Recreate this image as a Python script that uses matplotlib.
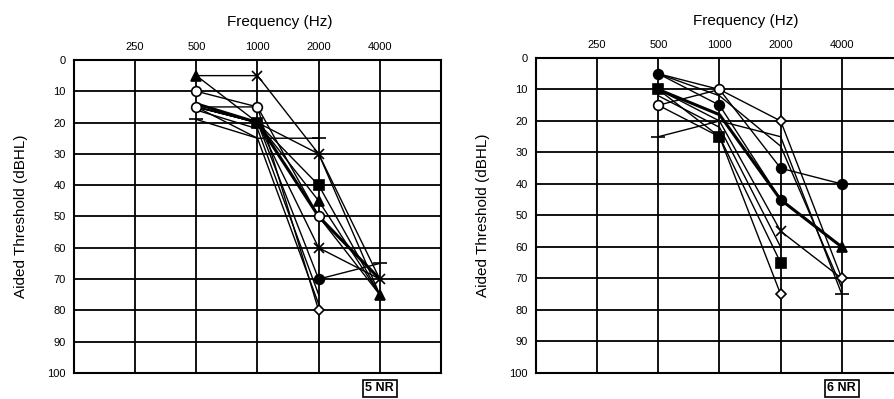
import matplotlib.pyplot as plt

plt.rcParams['font.family'] = ['Liberation Sans', 'DejaVu Sans']

freqs = [500, 1000, 2000, 4000]
tick_freqs = [250, 500, 1000, 2000, 4000]
db_ticks = list(range(0, 101, 10))

# left audiogram (group 5) - individual traces, thresholds at 500/1000/2000/4000
left_lines = [
    [5, 20, 45, 75],
    [5, 5, 30, 70],
    [10, 15, 50, 75],
    [15, 15, 80],
    [15, 20, 40, 75],
    [15, 20, 70, 65],
    [19, 25, 25],
    [15, 20, 60, 70],
    [15, 20, 30, 75],
    [15, 25, 78],
    [16, 22, 75],
]
left_mean = [14, 20, 50, 70]
# plotted symbols: (freq, dB, marker, filled)
left_marks = [
    (500, 5, '^', True), (500, 10, 'o', False), (500, 15, 'o', False),
    (500, 19, '_', False),
    (1000, 5, 'x', False), (1000, 15, 'o', False), (1000, 20, 's', True),
    (2000, 25, '_', False), (2000, 30, 'x', False), (2000, 40, 's', True),
    (2000, 45, '^', True), (2000, 50, 'o', False), (2000, 60, 'x', False),
    (2000, 70, 'o', True), (2000, 80, 'D', False),
    (4000, 65, '_', False), (4000, 70, 'x', False), (4000, 75, '^', True),
]

# right audiogram (group 6)
right_lines = [
    [5, 15, 45, 60],
    [5, 10, 35, 40],
    [10, 25, 65],
    [15, 10, 20, 70],
    [25, 20, 25, 75],
    [10, 20, 55, 70],
    [15, 25, 75],
    [5, 12, 28, 73],
    [12, 22, 60],
]
right_mean = [10, 18, 45, 60]
right_marks = [
    (500, 5, 'o', True), (500, 10, 's', True), (500, 15, 'o', False),
    (500, 25, '_', False),
    (1000, 10, 'o', False), (1000, 15, 'o', True), (1000, 25, 's', True),
    (2000, 20, 'D', False), (2000, 35, 'o', True), (2000, 45, 'o', True),
    (2000, 55, 'x', False), (2000, 65, 's', True), (2000, 75, 'D', False),
    (4000, 40, 'o', True), (4000, 60, '^', True), (4000, 70, 'D', False),
    (4000, 75, '_', False),
]


def draw_audiogram(ax, lines, mean, marks, nr_text):
    ax.set_xscale('log', base=2)
    ax.set_xlim(125, 8000)
    ax.set_ylim(100, 0)
    for f in tick_freqs:
        ax.axvline(f, color='black', lw=1.3)
    for d in db_ticks[1:-1]:
        ax.axhline(d, color='black', lw=1.3)
    for vals in lines:
        ax.plot(freqs[:len(vals)], vals, color='black', lw=1.0, zorder=3)
    ax.plot(freqs, mean, color='black', lw=2.2, zorder=3)
    for f, d, mk, filled in marks:
        ms = {'o': 7, 's': 7, '^': 7, 'D': 5.5, 'x': 7, '_': 10}[mk]
        ax.plot(f, d, linestyle='none', marker=mk, markersize=ms,
                markerfacecolor='black' if filled else 'white',
                markeredgecolor='black', markeredgewidth=1.2, clip_on=False,
                zorder=4)
    ax.xaxis.tick_top()
    ax.set_xticks(tick_freqs)
    ax.set_xticklabels([str(f) for f in tick_freqs], fontsize=8)
    ax.minorticks_off()
    ax.set_yticks(db_ticks)
    ax.set_yticklabels([str(d) for d in db_ticks], fontsize=8)
    ax.tick_params(length=0, pad=6)
    for s in ax.spines.values():
        s.set_linewidth(1.5)
    ax.set_ylabel('Aided Threshold (dBHL)', fontsize=11, labelpad=14)
    ax.text(4000, 104.8, nr_text, ha='center', va='center', fontsize=9,
            fontweight='bold', clip_on=False,
            bbox=dict(boxstyle='square,pad=0.2', fc='white', ec='black', lw=1.2))


fig = plt.figure(figsize=(8.95, 3.99), dpi=100)
ax1 = fig.add_axes([0.0827, 0.0652, 0.41, 0.7845])
ax2 = fig.add_axes([0.5989, 0.0652, 0.41, 0.7895])
draw_audiogram(ax1, left_lines, left_mean, left_marks, '5 NR')
draw_audiogram(ax2, right_lines, right_mean, right_marks, '6 NR')
fig.text(0.313, 0.945, 'Frequency (Hz)', ha='center', va='center', fontsize=11)
fig.text(0.833, 0.948, 'Frequency (Hz)', ha='center', va='center', fontsize=11)

fig.savefig('out.png', dpi=100)
